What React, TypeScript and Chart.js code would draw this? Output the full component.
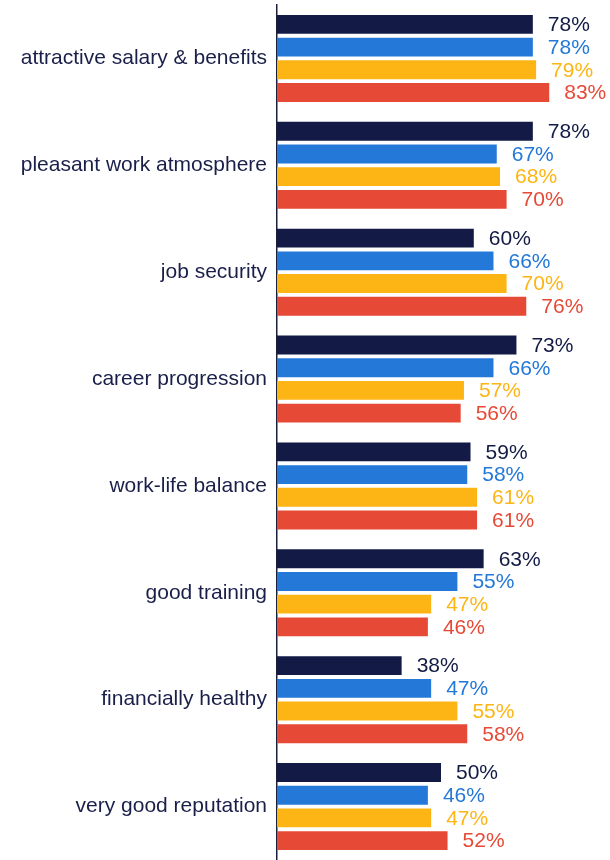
import React, { useEffect, useRef } from "react";
import { Chart, registerables } from "chart.js";

Chart.register(...registerables);

const categories = [
  "attractive salary & benefits",
  "pleasant work atmosphere",
  "job security",
  "career progression",
  "work-life balance",
  "good training",
  "financially healthy",
  "very good reputation",
];

const series1 = [78, 78, 60, 73, 59, 63, 38, 50];
const series2 = [78, 67, 66, 66, 58, 55, 47, 46];
const series3 = [79, 68, 70, 57, 61, 47, 55, 47];
const series4 = [83, 70, 76, 56, 61, 46, 58, 52];

const colors = ["#121a45", "#2478d8", "#fdb515", "#e64a37"];
const FONT = "Arial, 'Liberation Sans', sans-serif";

const labelPlugin = {
  id: "valueLabels",
  afterDatasetsDraw(chart: any) {
    const ctx = chart.ctx;
    ctx.save();
    ctx.font = `21px ${FONT}`;
    ctx.textAlign = "left";
    ctx.textBaseline = "middle";
    chart.data.datasets.forEach((ds: any, di: number) => {
      const meta = chart.getDatasetMeta(di);
      ctx.fillStyle = colors[di];
      meta.data.forEach((bar: any, i: number) => {
        ctx.fillText(`${ds.data[i]}%`, bar.x + 15, bar.y + 1);
      });
    });
    ctx.restore();
  },
};

export default function App() {
  const ref = useRef<HTMLCanvasElement>(null);
  useEffect(() => {
    document.body.style.margin = "0";
    const chart = new Chart(ref.current!, {
      type: "bar",
      data: {
        labels: categories,
        datasets: [series1, series2, series3, series4].map((d, i) => ({
          label: `s${i}`,
          data: d,
          backgroundColor: colors[i],
          categoryPercentage: 0.85,
          barPercentage: 0.83,
        })),
      },
      options: {
        indexAxis: "y",
        animation: false,
        responsive: false,
        maintainAspectRatio: false,
        layout: { padding: { top: 5, right: 5, bottom: -3, left: 0 } },
        plugins: {
          legend: { display: false },
          tooltip: { enabled: false },
        },
        scales: {
          x: {
            display: false,
            min: 0,
            max: 100,
          },
          y: {
            grid: { display: false, drawTicks: false },
            border: { display: true, color: "#1a1f3a", width: 1.5 },
            afterFit(scale: any) {
              scale.width = 277;
              scale.paddingTop = 0;
              scale.paddingBottom = 0;
            },
            ticks: {
              color: "#1a1f4a",
              padding: 10,
              font: { family: FONT, size: 21 },
            },
          },
        },
      },
      plugins: [labelPlugin],
    });
    return () => chart.destroy();
  }, []);
  return (
    <div style={{ position: "absolute", left: 0, top: 0 }}>
      <canvas ref={ref} width={610} height={860} style={{ width: 610, height: 860 }} />
    </div>
  );
}
